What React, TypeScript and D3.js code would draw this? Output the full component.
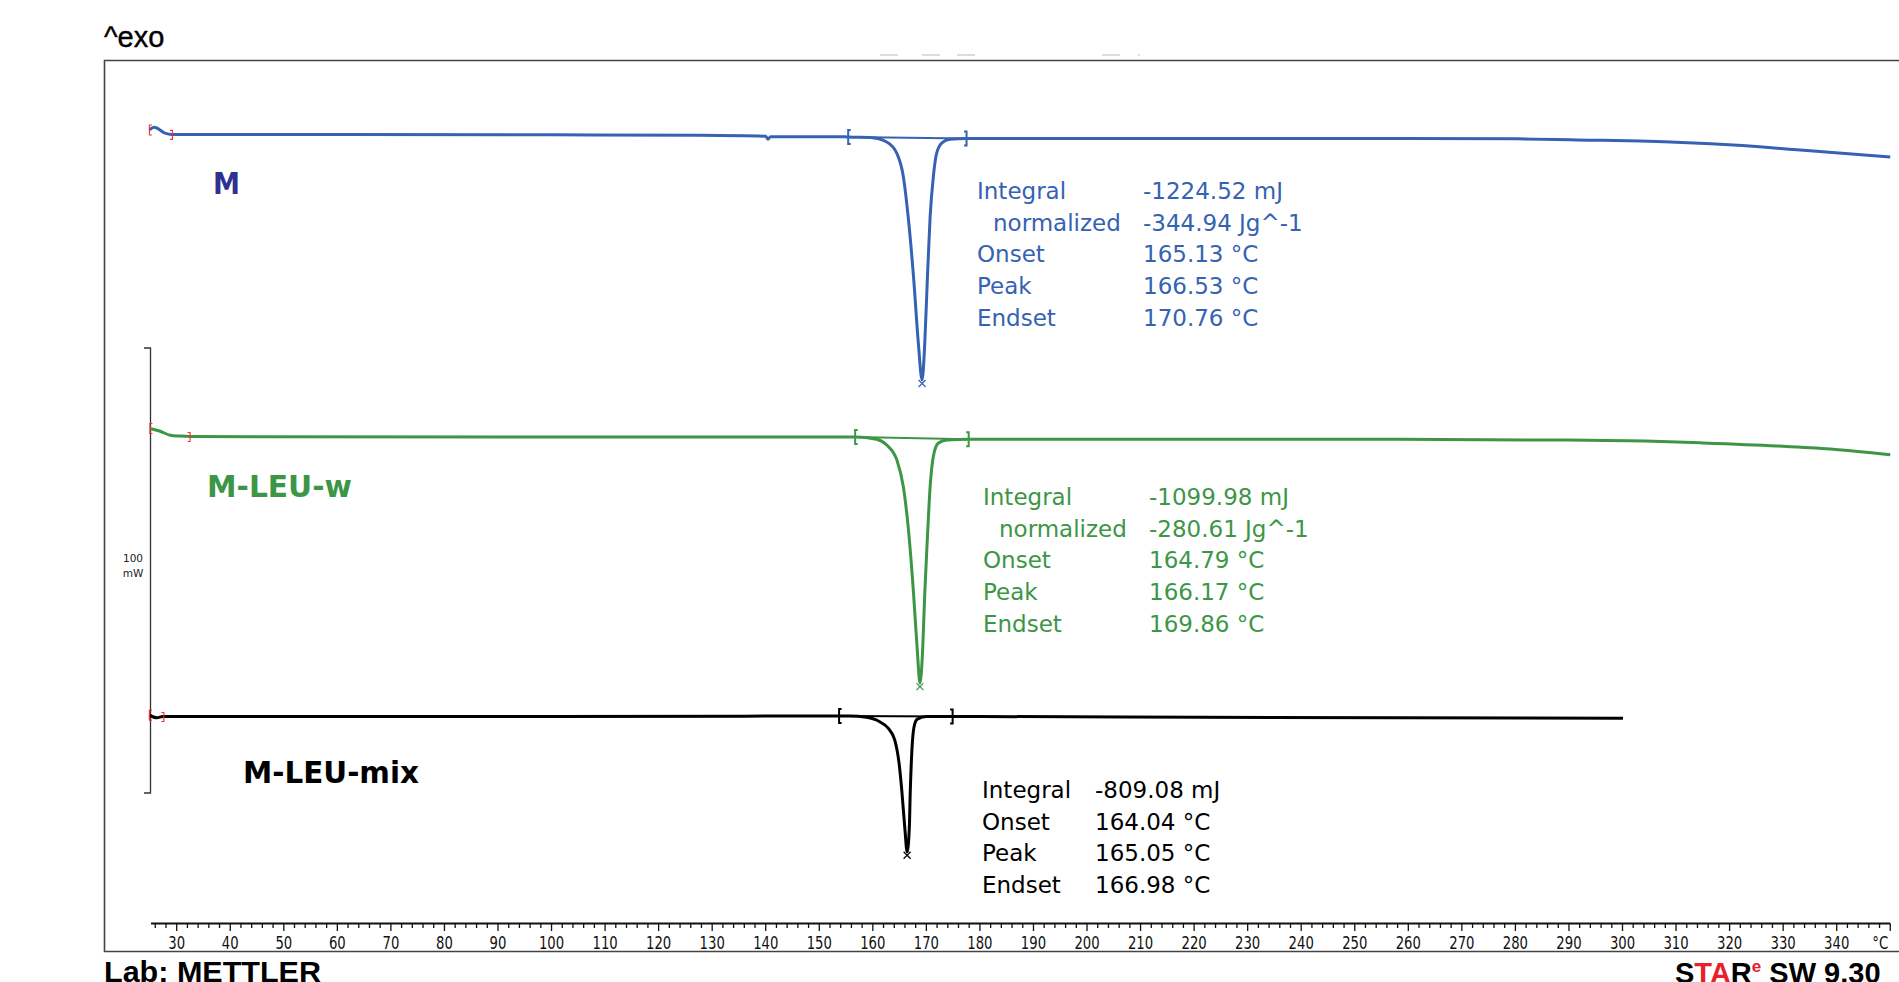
import React from 'react';
import * as d3 from 'd3';

const W = 1899;
const H = 982;

// sample M: temperature (°C) and heat flow (mW on the 100 mW bracket scale)
const mTemp = [24.9, 25.8, 27.8, 29.1, 60, 100, 127.7, 140.0, 140.4, 140.9, 153.9, 155.4, 159.5, 162.6, 164.5, 165.7, 166.6, 167.6, 168.5, 169.2, 169.7, 170.2, 170.7, 171.3, 171.9, 172.9, 174.4, 177.5, 221.1, 258.4, 280.3, 294.5, 303.3, 320.7, 333.2, 350.0];
const mFlow = [149.0, 149.6, 148.3, 148.0, 148.0, 147.9, 147.8, 147.6, 146.9, 147.5, 147.5, 147.4, 147.3, 146.3, 143.7, 138.5, 129.5, 116.0, 101.1, 92.8, 101.1, 116.0, 129.5, 138.5, 143.7, 146.1, 146.9, 147.1, 147.1, 147.1, 147.0, 146.7, 146.5, 145.6, 144.5, 142.9];

// sample M-LEU-w
const wTemp = [25.0, 26.9, 28.8, 30.6, 32.5, 100, 156.7, 160.7, 162.6, 164.5, 165.7, 166.6, 167.6, 168.3, 168.8, 169.3, 169.7, 170.2, 170.7, 171.3, 172.2, 173.8, 177.9, 258.4, 289.6, 304.2, 314.5, 328.8, 338.8, 350.0];
const wFlow = [81.9, 81.3, 80.4, 80.2, 80.1, 80.0, 80.0, 79.5, 78.2, 74.8, 68.8, 59.8, 44.9, 32.1, 24.7, 32.1, 44.9, 57.6, 68.8, 75.6, 78.6, 79.3, 79.5, 79.5, 79.3, 79.1, 78.7, 78.0, 77.3, 76.0];

// sample M-LEU-mix
const xTemp = [24.9, 26.3, 27.4, 100, 153.7, 155.7, 158.8, 161.3, 162.9, 164.1, 164.9, 165.4, 166.0, 166.4, 166.8, 167.0, 167.3, 167.7, 168.3, 170.1, 174.9, 221.1, 300.1];
const xFlow = [17.5, 16.9, 17.2, 17.2, 17.3, 17.3, 17.0, 16.0, 14.5, 11.9, 6.7, 0.7, -8.3, -13.2, -8.3, 0.7, 9.7, 14.9, 16.6, 17.2, 17.2, 17.0, 16.8];

// integration limits and start-up ranges (°C)
const mLimits = [155.4, 177.5];
const wLimits = [156.7, 177.9];
const xLimits = [153.7, 174.9];
const mRange = [24.9, 29.2];
const wRange = [25.0, 32.5];
const xRange = [24.9, 27.6];

const mResults = [['Integral', '-1224.52 mJ'], ['normalized', '-344.94 Jg^-1'], ['Onset', '165.13 °C'], ['Peak', '166.53 °C'], ['Endset', '170.76 °C']];
const wResults = [['Integral', '-1099.98 mJ'], ['normalized', '-280.61 Jg^-1'], ['Onset', '164.79 °C'], ['Peak', '166.17 °C'], ['Endset', '169.86 °C']];
const xResults = [['Integral', '-809.08 mJ'], ['Onset', '164.04 °C'], ['Peak', '165.05 °C'], ['Endset', '166.98 °C']];

const tickLabels = [30, 40, 50, 60, 70, 80, 90, 100, 110, 120, 130, 140, 150, 160, 170, 180, 190, 200, 210, 220, 230, 240, 250, 260, 270, 280, 290, 300, 310, 320, 330, 340];

const xScale = d3.scaleLinear().domain([30, 340]).range([176.7, 1836.7]);
const yScale = d3.scaleLinear().domain([0, 100]).range([793, 348]);

const series = [
  { name: 'M', temp: mTemp, flow: mFlow, limits: mLimits, range: mRange, results: mResults, color: '#3562b2', labelColor: '#2e3192',
    label: { x: 213, y: 194, w: 27 }, table: { x: 977, vx: 1143, y: 199 } },
  { name: 'M-LEU-w', temp: wTemp, flow: wFlow, limits: wLimits, range: wRange, results: wResults, color: '#3c9646', labelColor: '#3c9646',
    label: { x: 207, y: 497, w: 145 }, table: { x: 983, vx: 1149, y: 505 } },
  { name: 'M-LEU-mix', temp: xTemp, flow: xFlow, limits: xLimits, range: xRange, results: xResults, color: '#000000', labelColor: '#000000',
    label: { x: 243, y: 783, w: 176 }, table: { x: 982, vx: 1095, y: 798 } },
];

const flowAt = (temp: number[], flow: number[], t: number) => {
  const i = d3.bisectLeft(temp, t);
  if (i <= 0) return flow[0];
  if (i >= temp.length) return flow[flow.length - 1];
  const f = (t - temp[i - 1]) / (temp[i] - temp[i - 1]);
  return flow[i - 1] + f * (flow[i] - flow[i - 1]);
};

const annFont = "'DejaVu Sans', Verdana, sans-serif";
const arial = "'Liberation Sans', Arial, sans-serif";
const condensed = "'DejaVu Sans Condensed', 'DejaVu Sans', sans-serif";

export default function App() {
  const minorTicks = d3.range(26, 351, 2);

  return (
    <svg width={W} height={H} style={{ position: 'absolute', left: 0, top: 0, background: '#fff' }}>
      <rect width={W} height={H} fill="#fff" />
      <text x={104} y={47} fontFamily={arial} fontSize={29} stroke="#000" strokeWidth={0.4} fill="#000">^exo</text>

      {/* faint remains of a hidden title */}
      {[[880, 898], [922, 940], [957, 975], [1102, 1120], [1138, 1140]].map(([a, b], i) => (
        <line key={i} x1={a} x2={b} y1={55} y2={55} stroke="#dcdcdc" strokeWidth={2} />
      ))}

      {/* frame */}
      <path d="M1905,60.5 H104.5 V951.5 H1905" fill="none" stroke="#444" strokeWidth={1.6} />

      {/* 100 mW bracket */}
      <path d={`M144,${yScale(100)} H150.5 V${yScale(0)} H144`} fill="none" stroke="#333" strokeWidth={1.3} />
      <text x={133} y={562} fontFamily={annFont} fontSize={10.5} textAnchor="middle" fill="#222">100</text>
      <text x={133} y={577} fontFamily={annFont} fontSize={10.5} textAnchor="middle" fill="#222">mW</text>

      {series.map(s => {
        const pts = s.temp.map((t, i) => [xScale(t), yScale(s.flow[i])] as [number, number]);
        const path = d3.line<[number, number]>().x(d => d[0]).y(d => d[1]).curve(d3.curveMonotoneX)(pts);
        const l0 = [xScale(s.limits[0]), yScale(flowAt(s.temp, s.flow, s.limits[0]))];
        const l1 = [xScale(s.limits[1]), yScale(flowAt(s.temp, s.flow, s.limits[1]))];
        const r0 = [xScale(s.range[0]), yScale(flowAt(s.temp, s.flow, s.range[0]))];
        const r1 = [xScale(s.range[1]), yScale(flowAt(s.temp, s.flow, s.range[1]))];
        const pi = d3.minIndex(s.flow);
        const pk = [xScale(s.temp[pi]), yScale(s.flow[pi])];
        const lineH = 31.7;
        return (
          <g key={s.name}>
            <line x1={l0[0]} y1={l0[1]} x2={l1[0]} y2={l1[1]} stroke={s.color} strokeWidth={2} />
            <path d={path ?? ''} fill="none" stroke={s.color} strokeWidth={3} strokeLinejoin="round" />
            {/* integration limits */}
            <path d={`M${l0[0] + 2.5},${l0[1] - 7} H${l0[0]} V${l0[1] + 7} H${l0[0] + 2.5}`} fill="none" stroke={s.color} strokeWidth={2} />
            <path d={`M${l1[0] - 2.5},${l1[1] - 7} H${l1[0]} V${l1[1] + 7} H${l1[0] - 2.5}`} fill="none" stroke={s.color} strokeWidth={2} />
            {/* evaluation range markers */}
            <path d={`M${r0[0] + 2.5},${r0[1] - 5} H${r0[0]} V${r0[1] + 5} H${r0[0] + 2.5}`} fill="none" stroke="#ff2a2a" strokeWidth={1.1} />
            <path d={`M${r1[0] - 2.5},${r1[1] - 4} H${r1[0]} V${r1[1] + 5} H${r1[0] - 2.5}`} fill="none" stroke="#ff2a2a" strokeWidth={1.1} />
            {/* peak marker */}
            <path d={`M${pk[0] - 3.5},${pk[1]} L${pk[0] + 3.5},${pk[1] + 7} M${pk[0] + 3.5},${pk[1]} L${pk[0] - 3.5},${pk[1] + 7}`} stroke={s.color} strokeWidth={1.2} />
            <text x={s.label.x} y={s.label.y} fontFamily={annFont} fontWeight="bold" fontSize={31}
              textLength={s.label.w} lengthAdjust="spacingAndGlyphs" fill={s.labelColor}>{s.name}</text>
            {s.results.map(([k, v], i) => (
              <g key={k}>
                <text x={k === 'normalized' ? s.table.x + 16 : s.table.x} y={s.table.y + i * lineH}
                  fontFamily={annFont} fontSize={23} fill={s.color}>{k}</text>
                <text x={s.table.vx} y={s.table.y + i * lineH} fontFamily={annFont} fontSize={23} fill={s.color}>{v}</text>
              </g>
            ))}
          </g>
        );
      })}

      {/* temperature axis */}
      <line x1={151} x2={xScale(350)} y1={923.5} y2={923.5} stroke="#111" strokeWidth={1.8} />
      {minorTicks.map(t => (
        <line key={t} x1={xScale(t)} x2={xScale(t)} y1={923.5} y2={t % 10 === 0 ? 931 : 928} stroke="#111" strokeWidth={1.3} />
      ))}
      {tickLabels.map(t => (
        <text key={t} x={xScale(t)} y={948.5} textAnchor="middle" fontFamily={condensed}
          fontSize={17} textLength={String(t).length * 8.4} lengthAdjust="spacingAndGlyphs" fill="#111">{t}</text>
      ))}
      <text x={xScale(350) - 10} y={948.5} textAnchor="middle" fontFamily={condensed}
        fontSize={17} textLength={16} lengthAdjust="spacingAndGlyphs" fill="#111">°C</text>

      <text x={104} y={982} fontFamily={arial} fontWeight="bold" fontSize={30} textLength={217} lengthAdjust="spacingAndGlyphs" fill="#000">Lab: METTLER</text>
      <text x={1675} y={983} fontFamily={arial} fontWeight="bold" fontSize={29} fill="#000">
        <tspan>S</tspan><tspan fill="#e8202a">TA</tspan><tspan>R</tspan>
        <tspan fill="#e8202a" fontSize={17} dy={-11}>e</tspan>
        <tspan dy={11}> SW 9.30</tspan>
      </text>
    </svg>
  );
}
